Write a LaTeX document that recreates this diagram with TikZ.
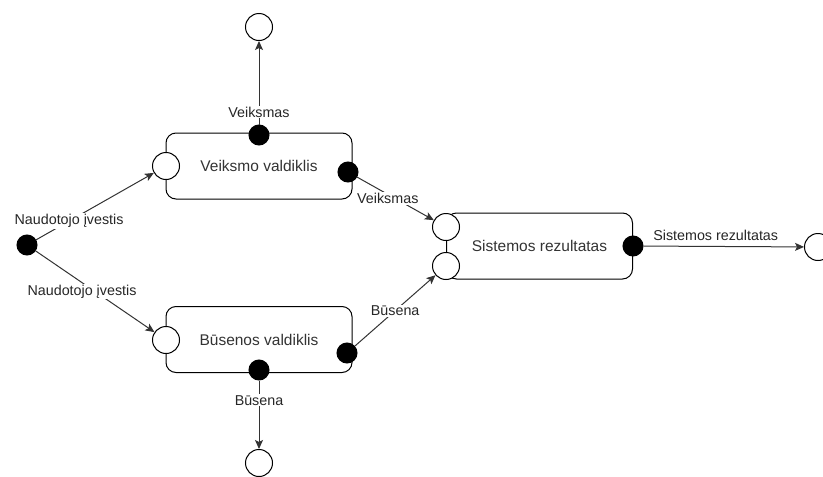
\documentclass[tikz,border=0pt]{standalone}
\usepackage{fontspec}
\setmainfont{Liberation Sans}
\usetikzlibrary{arrows.meta}
\tikzset{
	block/.style={draw, rounded corners=10pt, line width=1pt, minimum width=186pt, minimum height=66pt, font=\fontsize{15.5}{18}\selectfont, text=black!80},
	inport/.style={draw, circle, fill=white, line width=1pt, minimum size=27pt, inner sep=0pt},
	outport/.style={draw, circle, fill=black, line width=1pt, minimum size=20pt, inner sep=0pt},
	wire/.style={draw=black!80, line width=1pt, -{Stealth[length=9pt,width=8pt,inset=2pt]}},
	lbl/.style={fill=white, inner sep=1pt, font=\fontsize{14.3}{17}\selectfont, text=black!85},
	toplbl/.style={inner sep=1pt, font=\fontsize{14.3}{17}\selectfont, text=black!85}
}
\begin{document}
\begin{tikzpicture}[x=1pt, y=-1pt]
		\useasboundingbox (0,0) rectangle (823,477);
		% controllers
		\node[block] (vctrl) at (259,166) {Veiksmo valdiklis};
		\node[block] (bctrl) at (259,339.5) {Būsenos valdiklis};
		\node[block] (sysres) at (539.5,246) {Sistemos rezultatas};
		% input ports
		\node[inport] (vin) at (166,166) {};
		\node[inport] (bin) at (166,340) {};
		\node[inport] (sinA) at (446,227) {};
		\node[inport] (sinB) at (446,266) {};
		% free ends
		\node[inport] (vtop) at (259,27) {};
		\node[inport] (bbot) at (259,463) {};
		\node[inport] (sout) at (818,247) {};
		% output ports
		\node[outport] (user) at (27,245) {};
		\node[outport] (vup) at (259,135) {};
		\node[outport] (vright) at (348,172) {};
		\node[outport] (bright) at (347,353) {};
		\node[outport] (bdown) at (259,370) {};
		\node[outport] (sright) at (633,246) {};
		% connectors
		\draw[wire] (user) -- node[lbl, pos=0.28] (lblua) {Naudotojo įvestis} (vin);
		\draw[wire] (user) -- node[lbl, pos=0.5, xshift=-13pt] (lblub) {Naudotojo įvestis} (bin);
		\draw[wire] (vup) -- node[lbl, pos=0.15] (lblva) {Veiksmas} (vtop);
		\draw[wire] (bdown) -- node[lbl, pos=0.29] (lblbs) {Būsena} (bbot);
		\draw[wire] (vright) -- node[lbl, pos=0.4, yshift=-4pt] (lblvb) {Veiksmas} (sinA);
		\draw[wire] (bright) -- node[lbl, pos=0.5] (lblbt) {Būsena} (sinB);
		\draw[wire] (sright) -- node[toplbl, pos=0.45, above=4pt] (lblsr) {Sistemos rezultatas} (sout);
		\end{tikzpicture}
\end{document}
